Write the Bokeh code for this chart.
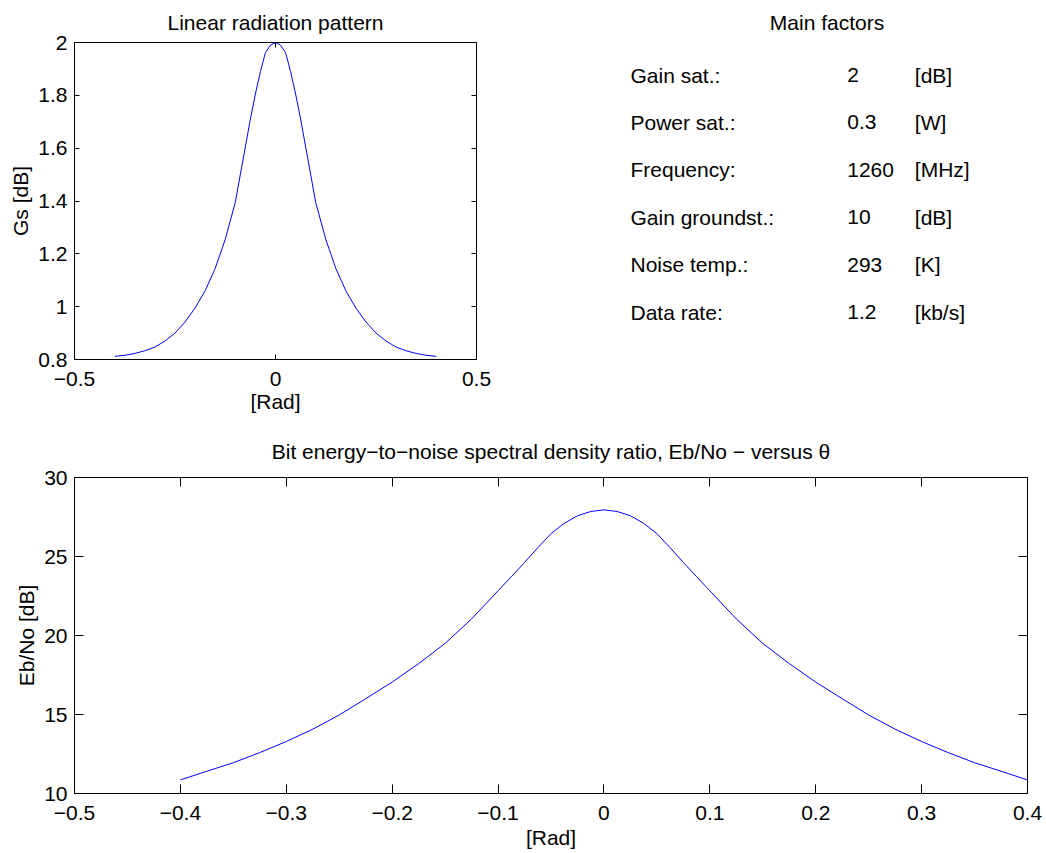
from bokeh.plotting import figure
from bokeh.layouts import column, row
from bokeh.models import Range1d, FixedTicker, LinearAxis, CustomJSTickFormatter
from bokeh.core.properties import value
from bokeh.embed import file_html
from bokeh.resources import INLINE

# ---------------- data ----------------
theta_rad = [-0.4, -0.375, -0.35, -0.325, -0.3, -0.275, -0.25, -0.225, -0.2, -0.175,
             -0.15, -0.125, -0.1, -0.0875, -0.075, -0.0625, -0.05, -0.0375, -0.025, -0.0125,
             0.0,
             0.0125, 0.025, 0.0375, 0.05, 0.0625, 0.075, 0.0875, 0.1, 0.125, 0.15,
             0.175, 0.2, 0.225, 0.25, 0.275, 0.3, 0.325, 0.35, 0.375, 0.4]
gs_db = [0.812, 0.816, 0.823, 0.833, 0.847, 0.870, 0.900, 0.942, 0.995, 1.060,
         1.145, 1.255, 1.395, 1.500, 1.605, 1.710, 1.805, 1.890, 1.962, 1.990,
         2.000,
         1.990, 1.962, 1.890, 1.805, 1.710, 1.605, 1.500, 1.395, 1.255, 1.145,
         1.060, 0.995, 0.942, 0.900, 0.870, 0.847, 0.833, 0.823, 0.816, 0.812]
ebno_db = [10.86, 11.41, 11.95, 12.59, 13.29, 14.07, 14.97, 16.00, 17.05, 18.22,
           19.50, 21.05, 22.83, 23.72, 24.62, 25.55, 26.45, 27.10, 27.58, 27.85,
           27.95,
           27.85, 27.58, 27.10, 26.45, 25.55, 24.62, 23.72, 22.83, 21.05, 19.50,
           18.22, 17.05, 16.00, 14.97, 14.07, 13.29, 12.59, 11.95, 11.41, 10.86]

gs_xticks = [-0.5, 0.0, 0.5]
gs_xlabels = ["\u22120.5", "0", "0.5"]
gs_yticks = [0.8, 1.0, 1.2, 1.4, 1.6, 1.8, 2.0]
gs_ylabels = ["0.8", "1", "1.2", "1.4", "1.6", "1.8", "2"]

eb_xticks = [-0.5, -0.4, -0.3, -0.2, -0.1, 0.0, 0.1, 0.2, 0.3, 0.4]
eb_xlabels = ["\u22120.5", "\u22120.4", "\u22120.3", "\u22120.2", "\u22120.1",
              "0", "0.1", "0.2", "0.3", "0.4"]
eb_yticks = [10, 15, 20, 25, 30]
eb_ylabels = ["10", "15", "20", "25", "30"]

factor_names = ["Gain sat.:", "Power sat.:", "Frequency:", "Gain groundst.:",
                "Noise temp.:", "Data rate:"]
factor_values = ["2", "0.3", "1260", "10", "293", "1.2"]
factor_units = ["[dB]", "[W]", "[MHz]", "[dB]", "[K]", "[kb/s]"]

title_gs = "Linear radiation pattern"
title_factors = "Main factors"
title_eb = "Bit energy\u2212to\u2212noise spectral density ratio, Eb/No \u2212 versus \u03b8"

# ---------------- style ----------------
FONT = "Liberation Sans"
FS = "21px"
BLUE = "#0000ff"
BLANK = CustomJSTickFormatter(code="return ''")


def blank_axis(ticks, tick, show_ticks=True):
    return LinearAxis(ticker=FixedTicker(ticks=ticks, minor_ticks=[]),
                      formatter=BLANK,
                      axis_line_color=None, major_tick_in=tick, major_tick_out=0,
                      major_tick_line_color="black" if show_ticks else None,
                      minor_tick_line_color=None, major_label_standoff=0)


def matlab_axes(p, xt, xl, yt, yl, tick, xlabel, ylabel,
                x_lab_standoff, y_lab_standoff):
    p.xgrid.visible = False
    p.ygrid.visible = False
    p.outline_line_color = "black"
    p.outline_line_width = 1
    p.outline_line_alpha = 1.0
    p.background_fill_color = "white"
    p.border_fill_color = "white"
    xa = p.xaxis[0]
    ya = p.yaxis[0]
    for ax, ticks, labels, lab in ((xa, xt, xl, xlabel), (ya, yt, yl, ylabel)):
        ax.ticker = FixedTicker(ticks=ticks, minor_ticks=[])
        ax.major_label_overrides = dict(zip(ticks, labels))
        ax.axis_line_color = None
        ax.major_tick_in = tick
        ax.major_tick_out = 0
        ax.major_tick_line_color = "black"
        ax.minor_tick_line_color = None
        ax.major_label_text_font = FONT
        ax.major_label_text_font_size = FS
        ax.major_label_text_color = "black"
        ax.axis_label = lab
        ax.axis_label_text_font = FONT
        ax.axis_label_text_font_size = FS
        ax.axis_label_text_font_style = "normal"
        ax.axis_label_text_color = "black"
    xa.major_label_standoff = 12
    ya.major_label_standoff = 7
    xa.axis_label_standoff = x_lab_standoff
    ya.axis_label_standoff = y_lab_standoff
    p.add_layout(blank_axis(yt, tick), "right")
    p.add_layout(blank_axis(xt, tick), "above")


def style_title(p, text, standoff, valign):
    p.title.text = text
    p.title.text_font = FONT
    p.title.text_font_size = FS
    p.title.text_font_style = "normal"
    p.title.text_color = "black"
    p.title.align = "center"
    p.title.vertical_align = valign
    p.title.standoff = standoff


# ---------------- top-left: radiation pattern ----------------
p1 = figure(output_backend="svg", toolbar_location=None,
            x_range=Range1d(-0.5, 0.5), y_range=Range1d(0.8, 2.0),
            frame_width=402, frame_height=317,
            min_border_left=74, min_border_right=84,
            min_border_top=42, min_border_bottom=61)
matlab_axes(p1, gs_xticks, gs_xlabels, gs_yticks, gs_ylabels, 5,
            "[Rad]", "Gs [dB]", 1, 3)
style_title(p1, title_gs, 15, "middle")
p1.line(theta_rad, gs_db, line_color=BLUE, line_width=1)

# ---------------- top-right: main factors ----------------
# ranges expressed in page pixels (frame spans x 607..1046, y 42..359)
p_t = figure(output_backend="svg", toolbar_location=None,
             frame_width=439, frame_height=317,
             min_border_left=47, min_border_right=0,
             min_border_top=42, min_border_bottom=61,
             x_range=Range1d(607, 1046), y_range=Range1d(359, 42),
             x_axis_type=None, y_axis_type=None,
             outline_line_color=None)
p_t.background_fill_color = "white"
p_t.border_fill_color = "white"
p_t.add_layout(blank_axis([800], 5, show_ticks=False), "above")
style_title(p_t, title_factors, 15, "middle")
row_y = [74.5 + 47.4 * i for i in range(len(factor_names))]
for col_x, col_text in ((630, factor_names), (846.7, factor_values), (914.3, factor_units)):
    p_t.text(x=[col_x] * len(col_text), y=row_y, text=col_text,
             text_align="left", text_baseline="alphabetic",
             text_font=value(FONT), text_font_size=value(FS), text_color="black")

# ---------------- bottom: Eb/No ----------------
p2 = figure(output_backend="svg", toolbar_location=None,
            x_range=Range1d(-0.5, 0.4), y_range=Range1d(10, 30),
            frame_width=953, frame_height=316,
            min_border_left=74, min_border_right=18,
            min_border_top=57, min_border_bottom=59)
matlab_axes(p2, eb_xticks, eb_xlabels, eb_yticks, eb_ylabels, 9,
            "[Rad]", "Eb/No [dB]", 3, 3)
style_title(p2, title_eb, 25, "top")
p2.line(theta_rad, ebno_db, line_color=BLUE, line_width=1)

layout = column(row(p1, p_t), p2)
open("out.html", "w").write(file_html(layout, INLINE))
